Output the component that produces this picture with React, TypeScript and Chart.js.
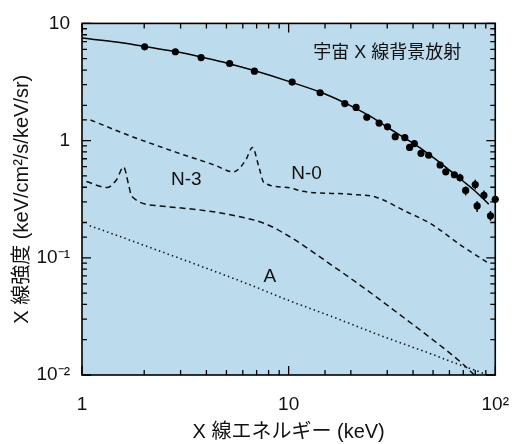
import React, { useEffect, useRef } from "react";
import { Chart, registerables } from "chart.js";

Chart.register(...registerables);

// ---- data ----
const cxbCurveE = [1, 1.5, 2, 3, 4, 5, 7, 10, 15, 20, 25, 30, 40, 50, 60, 70, 80, 93];
const cxbCurveV = [7.5, 6.9, 6.35, 5.65, 5.05, 4.6, 3.9, 3.2, 2.5, 1.98, 1.6, 1.3, 0.95, 0.72, 0.56, 0.45, 0.37, 0.287];

const cxbPointE = [2.01, 2.83, 3.77, 5.18, 6.83, 10.4, 14.2, 18.7, 21.2, 23.9, 27.4, 30.1, 32.8, 36.5, 38.5, 40.6, 43.7, 47.6, 54.1, 57.6, 63.4, 67.5, 71.9, 80.0, 81.7, 88.1, 94.8, 100];
const cxbPointV = [6.31, 5.73, 5.11, 4.55, 3.91, 3.16, 2.56, 2.07, 1.92, 1.58, 1.41, 1.31, 1.08, 1.06, 0.874, 0.944, 0.779, 0.75, 0.619, 0.541, 0.511, 0.482, 0.376, 0.422, 0.277, 0.341, 0.228, 0.316];
const cxbErrLo: (number | null)[] = [null, null, null, null, null, null, null, null, null, null, null, null, null, null, null, null, null, null, null, null, null, 0.447, 0.341, 0.383, 0.246, 0.311, 0.207, 0.293];
const cxbErrHi: (number | null)[] = [null, null, null, null, null, null, null, null, null, null, null, null, null, null, null, null, null, null, null, null, null, 0.521, 0.406, 0.464, 0.304, 0.376, 0.251, 0.335];

const n0E = [1.1, 1.68, 2.86, 4.37, 5.4, 6.2, 6.68, 7.2, 7.59, 9.89, 11.7, 19.9, 26.5, 36.5, 48.6, 69, 91.9];
const n0V = [1.5, 1.11, 0.794, 0.619, 0.541, 0.681, 0.874, 0.585, 0.438, 0.398, 0.369, 0.348, 0.329, 0.251, 0.196, 0.126, 0.0909];

const n3E = [1.05, 1.32, 1.47, 1.59, 1.68, 1.74, 2.39, 4.06, 5.82, 7.67, 9.9, 16.8, 23.9, 33.9, 48.6, 69, 79.2];
const n3V = [0.447, 0.398, 0.464, 0.596, 0.422, 0.335, 0.277, 0.251, 0.224, 0.196, 0.155, 0.0825, 0.0531, 0.0335, 0.0207, 0.0126, 0.01];

const aE = [1.09, 1.66, 2.83, 4.81, 7.12, 10.1, 16.6, 28.3, 48.1, 68.2, 84.4, 93.8];
const aV = [0.188, 0.144, 0.102, 0.0721, 0.0552, 0.043, 0.031, 0.0215, 0.0153, 0.0121, 0.0106, 0.0098];

const xTickValues = [1, 10, 100];
const xTickLabels = ["1", "10", "10²"];
const yTickValues = [0.01, 0.1, 1, 10];
const yTickLabels = ["10⁻²", "10⁻¹", "1", "10"];

const curveLabels = ["宇宙 X 線背景放射", "N-0", "N-3", "A"];
const curveLabelE = [30, 12.2, 3.2, 8.1];
const curveLabelV = [5.6, 0.52, 0.46, 0.069];
const curveLabelSize = [18, 19, 19, 19];

const xTitle = "X 線エネルギー (keV)";
const yTitle = "X 線強度 (keV/cm²/s/keV/sr)";

const FONT = '"Liberation Sans", "Noto Sans CJK JP", sans-serif';
const BG = "#bcdbec";

function toXY(xs: number[], ys: number[]) {
  return xs.map((x, i) => ({ x, y: ys[i] }));
}

function labelFor(values: number[], labels: string[], v: number) {
  for (let i = 0; i < values.length; i++) {
    if (Math.abs(Math.log10(v) - Math.log10(values[i])) < 1e-6) return labels[i];
  }
  return "";
}

const framePlugin = {
  id: "frame",
  beforeDatasetsDraw(chart: any) {
    const { ctx, chartArea: a } = chart;
    ctx.save();
    ctx.fillStyle = BG;
    ctx.fillRect(a.left, a.top, a.right - a.left, a.bottom - a.top);
    ctx.restore();
  },
  afterDatasetsDraw(chart: any) {
    const { ctx, chartArea: a, scales } = chart;
    const xs = scales.x;
    const ys = scales.y;
    ctx.save();
    // error bars
    ctx.strokeStyle = "#000";
    ctx.lineWidth = 1.5;
    for (let i = 0; i < cxbPointE.length; i++) {
      const lo = cxbErrLo[i];
      const hi = cxbErrHi[i];
      if (lo == null || hi == null) continue;
      const px = xs.getPixelForValue(cxbPointE[i]);
      ctx.beginPath();
      ctx.moveTo(px, ys.getPixelForValue(lo));
      ctx.lineTo(px, ys.getPixelForValue(hi));
      ctx.stroke();
    }
    // ticks inward on all sides
    ctx.lineWidth = 1.3;
    const isMajor = (v: number) => Math.abs(Math.log10(v) - Math.round(Math.log10(v))) < 1e-6;
    xs.ticks.forEach((t: any) => {
      const px = xs.getPixelForValue(t.value);
      const len = isMajor(t.value) ? 9 : 5;
      ctx.beginPath();
      ctx.moveTo(px, a.bottom);
      ctx.lineTo(px, a.bottom - len);
      ctx.moveTo(px, a.top);
      ctx.lineTo(px, a.top + len);
      ctx.stroke();
    });
    ys.ticks.forEach((t: any) => {
      const py = ys.getPixelForValue(t.value);
      const len = isMajor(t.value) ? 9 : 5;
      ctx.beginPath();
      ctx.moveTo(a.left, py);
      ctx.lineTo(a.left + len, py);
      ctx.moveTo(a.right, py);
      ctx.lineTo(a.right - len, py);
      ctx.stroke();
    });
    // frame
    ctx.lineWidth = 1.6;
    ctx.strokeRect(a.left, a.top, a.right - a.left, a.bottom - a.top);
    // curve labels
    ctx.fillStyle = "#111";
    ctx.textAlign = "center";
    ctx.textBaseline = "middle";
    for (let i = 0; i < curveLabels.length; i++) {
      ctx.font = `${curveLabelSize[i]}px ${FONT}`;
      ctx.fillText(curveLabels[i], xs.getPixelForValue(curveLabelE[i]), ys.getPixelForValue(curveLabelV[i]));
    }
    ctx.restore();
  },
};

export default function App() {
  const ref = useRef<HTMLCanvasElement | null>(null);
  useEffect(() => {
    if (!ref.current) return;
    const chart = new Chart(ref.current, {
      type: "line",
      data: {
        datasets: [
          {
            data: toXY(cxbCurveE, cxbCurveV),
            borderColor: "#000",
            borderWidth: 1.5,
            pointRadius: 0,
            cubicInterpolationMode: "monotone",
          },
          {
            data: toXY(cxbPointE, cxbPointV),
            showLine: false,
            pointRadius: 3.6,
            pointBackgroundColor: "#000",
            pointBorderColor: "#000",
            pointBorderWidth: 0,
            clip: false,
          } as any,
          {
            data: toXY(n0E, n0V),
            borderColor: "#111",
            borderWidth: 1.5,
            borderDash: [5, 4],
            pointRadius: 0,
            cubicInterpolationMode: "monotone",
          },
          {
            data: toXY(n3E, n3V),
            borderColor: "#111",
            borderWidth: 1.5,
            borderDash: [6, 4],
            pointRadius: 0,
            cubicInterpolationMode: "monotone",
          },
          {
            data: toXY(aE, aV),
            borderColor: "#111",
            borderWidth: 1.6,
            borderDash: [1.4, 3.2],
            pointRadius: 0,
            cubicInterpolationMode: "monotone",
          },
        ],
      },
      options: {
        animation: false,
        responsive: false,
        layout: { padding: { top: 15, right: 11, left: 0, bottom: 0 } },
        plugins: { legend: { display: false }, tooltip: { enabled: false } },
        scales: {
          x: {
            type: "logarithmic",
            min: 1,
            max: 100,
            border: { display: false },
            grid: { display: false, drawTicks: false },
            ticks: {
              autoSkip: false,
              maxRotation: 0,
              padding: 18,
              color: "#111",
              font: { family: FONT, size: 19 },
              callback: (v: any) => labelFor(xTickValues, xTickLabels, Number(v)),
            },
            title: {
              display: true,
              text: xTitle,
              color: "#111",
              font: { family: FONT, size: 20 },
              padding: { top: 0, bottom: 0 },
            },
            afterFit: (s: any) => {
              s.height = 69;
            },
          },
          y: {
            type: "logarithmic",
            min: 0.01,
            max: 10,
            border: { display: false },
            grid: { display: false, drawTicks: false },
            ticks: {
              autoSkip: false,
              padding: 12,
              color: "#111",
              font: { family: FONT, size: 19 },
              callback: (v: any) => labelFor(yTickValues, yTickLabels, Number(v)),
            },
            title: {
              display: true,
              text: yTitle,
              color: "#111",
              font: { family: FONT, size: 20 },
              padding: { top: 10, bottom: 0 },
            },
            afterFit: (s: any) => {
              s.width = 82;
            },
          },
        },
      } as any,
      plugins: [framePlugin],
    });
    return () => chart.destroy();
  }, []);
  return (
    <div style={{ position: "absolute", left: 0, top: 0, width: 527, height: 444, background: "#fff" }}>
      <canvas ref={ref} width={527} height={444} style={{ display: "block" }} />
    </div>
  );
}
